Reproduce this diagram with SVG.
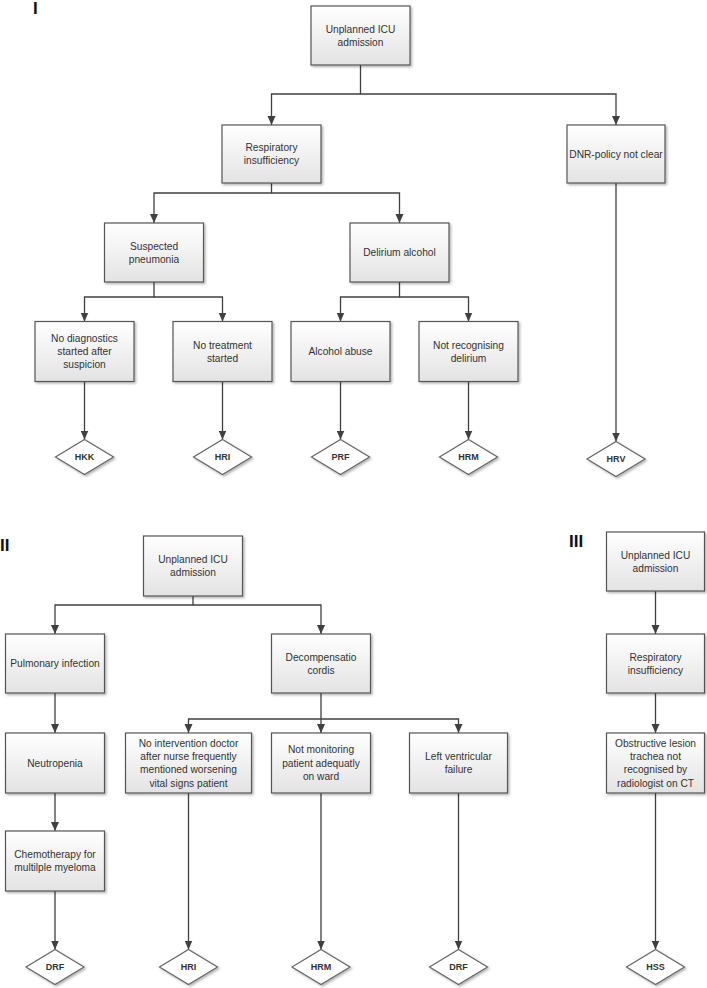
<svg xmlns="http://www.w3.org/2000/svg" xmlns:xlink="http://www.w3.org/1999/xlink" width="707" height="988" viewBox="0 0 707 988">
<defs>
<linearGradient id="bg" x1="0" y1="0" x2="0" y2="1">
<stop offset="0" stop-color="#ffffff"/>
<stop offset="1" stop-color="#e3e3e3"/>
</linearGradient>
<filter id="sh" x="-10%" y="-10%" width="130%" height="130%">
<feDropShadow dx="1.5" dy="1.5" stdDeviation="1" flood-color="#000" flood-opacity="0.3"/>
</filter>
<marker id="ah" markerUnits="userSpaceOnUse" markerWidth="10" markerHeight="9" refX="9" refY="4" orient="auto">
<path d="M0,0 L9,4 L0,8 z" fill="#404040"/>
</marker>
<polygon id="dia" points="0,-17.5 29,0 0,17.5 -29,0"/>
</defs>
<style>
.box{fill:url(#bg);stroke:#555;stroke-width:1.2;filter:url(#sh)}
.dm{fill:#fff;stroke:#666;stroke-width:1.2;filter:url(#sh)}
.t{font-family:"Liberation Sans",Arial,sans-serif;font-size:10.2px;fill:#333;text-anchor:middle}
.d{font-family:"Liberation Sans",Arial,sans-serif;font-size:9px;font-weight:bold;fill:#333;text-anchor:middle}
.lab{font-family:"Liberation Sans",Arial,sans-serif;font-size:17px;font-weight:bold;fill:#111}
.c path{fill:none;stroke:#404040;stroke-width:1.3;marker-end:url(#ah)}
</style>
<rect width="707" height="988" fill="#fff"/>

<text class="lab" x="33" y="14">I</text>
<text class="lab" x="0" y="551">II</text>
<text class="lab" x="569" y="547">III</text>

<g class="c" id="connectors">
<path d="M360.5 65 V94 H271.5 V125"/>
<path d="M360.5 94 H616 V125"/>
<path d="M271.5 183 V193 H154 V223"/>
<path d="M271.5 193 H399.5 V223"/>
<path d="M154 282 V297 H84.5 V321.5"/>
<path d="M154 297 H222.5 V321.5"/>
<path d="M399.5 282 V297 H340.5 V321.5"/>
<path d="M399.5 297 H468.5 V321.5"/>
<path d="M84.5 381.5 V439.5"/>
<path d="M222.5 381.5 V439.5"/>
<path d="M340.5 381.5 V439.5"/>
<path d="M468.5 381.5 V439.5"/>
<path d="M616 183 V441.5"/>
<path d="M193 596 V605 H55 V634"/>
<path d="M193 605 H321 V634"/>
<path d="M55 693 V733"/>
<path d="M55 793 V831"/>
<path d="M55 891 V949.5"/>
<path d="M321 693 V719 H188.5 V733"/>
<path d="M321 719 V733"/>
<path d="M321 719 H458.5 V733"/>
<path d="M188.5 793 V949.5"/>
<path d="M321 793 V949.5"/>
<path d="M458.5 793 V949.5"/>
<path d="M655.5 591 V634"/>
<path d="M655.5 693 V733"/>
<path d="M655.5 793 V949.5"/>
</g>

<g id="i-top"><rect class="box" x="311" y="6" width="99" height="59"/><text class="t" x="360.5" y="32.5">Unplanned ICU</text><text class="t" x="360.5" y="45.8">admission</text></g>
<g id="i-resp"><rect class="box" x="222" y="125" width="99" height="58"/><text class="t" x="271.5" y="151">Respiratory</text><text class="t" x="271.5" y="164.3">insufficiency</text></g>
<g id="i-dnr"><rect class="box" x="567" y="125" width="98" height="58"/><text class="t" x="616" y="157.6">DNR-policy not clear</text></g>
<g id="i-susp"><rect class="box" x="104.5" y="223" width="99" height="59"/><text class="t" x="154" y="249.5">Suspected</text><text class="t" x="154" y="262.8">pneumonia</text></g>
<g id="i-delir"><rect class="box" x="350" y="223" width="99" height="59"/><text class="t" x="399.5" y="256.1">Delirium alcohol</text></g>
<g id="i-nodiag"><rect class="box" x="35" y="321.5" width="99" height="60"/><text class="t" x="84.5" y="341.8">No diagnostics</text><text class="t" x="84.5" y="355.1">started after</text><text class="t" x="84.5" y="368.4">suspicion</text></g>
<g id="i-notreat"><rect class="box" x="173" y="321.5" width="99" height="60"/><text class="t" x="222.5" y="348.5">No treatment</text><text class="t" x="222.5" y="361.8">started</text></g>
<g id="i-alcohol"><rect class="box" x="291" y="321.5" width="99" height="60"/><text class="t" x="340.5" y="355.1">Alcohol abuse</text></g>
<g id="i-notrec"><rect class="box" x="419" y="321.5" width="99" height="60"/><text class="t" x="468.5" y="348.5">Not recognising</text><text class="t" x="468.5" y="361.8">delirium</text></g>
<g id="i-hkk"><use href="#dia" class="dm" x="84.5" y="457"/><text class="d" x="84.5" y="460.2">HKK</text></g>
<g id="i-hri"><use href="#dia" class="dm" x="222.5" y="457"/><text class="d" x="222.5" y="460.2">HRI</text></g>
<g id="i-prf"><use href="#dia" class="dm" x="340.5" y="457"/><text class="d" x="340.5" y="460.2">PRF</text></g>
<g id="i-hrm"><use href="#dia" class="dm" x="468.5" y="457"/><text class="d" x="468.5" y="460.2">HRM</text></g>
<g id="i-hrv"><use href="#dia" class="dm" x="616" y="459"/><text class="d" x="616" y="462.2">HRV</text></g>

<g id="ii-top"><rect class="box" x="143.5" y="536" width="99" height="60"/><text class="t" x="193" y="563">Unplanned ICU</text><text class="t" x="193" y="576.3">admission</text></g>
<g id="ii-pulm"><rect class="box" x="5.5" y="634" width="99" height="59"/><text class="t" x="55" y="667.1">Pulmonary infection</text></g>
<g id="ii-decomp"><rect class="box" x="271.5" y="634" width="99" height="59"/><text class="t" x="321" y="660.5">Decompensatio</text><text class="t" x="321" y="673.8">cordis</text></g>
<g id="ii-neutro"><rect class="box" x="5.5" y="733" width="99" height="60"/><text class="t" x="55" y="766.6">Neutropenia</text></g>
<g id="ii-chemo"><rect class="box" x="5.5" y="831" width="99" height="60"/><text class="t" x="55" y="858">Chemotherapy for</text><text class="t" x="55" y="871.3">multilple myeloma</text></g>
<g id="ii-nointerv"><rect class="box" x="125.5" y="733" width="126" height="60"/><text class="t" x="188.5" y="746.7">No intervention doctor</text><text class="t" x="188.5" y="760">after nurse frequently</text><text class="t" x="188.5" y="773.3">mentioned worsening</text><text class="t" x="188.5" y="786.6">vital signs patient</text></g>
<g id="ii-notmon"><rect class="box" x="271.5" y="733" width="99" height="60"/><text class="t" x="321" y="753.3">Not monitoring</text><text class="t" x="321" y="766.6">patient adequatly</text><text class="t" x="321" y="779.9">on ward</text></g>
<g id="ii-leftvent"><rect class="box" x="409.5" y="733" width="98" height="60"/><text class="t" x="458.5" y="760">Left ventricular</text><text class="t" x="458.5" y="773.3">failure</text></g>
<g id="ii-drf1"><use href="#dia" class="dm" x="55" y="967"/><text class="d" x="55" y="970.2">DRF</text></g>
<g id="ii-hri"><use href="#dia" class="dm" x="188.5" y="967"/><text class="d" x="188.5" y="970.2">HRI</text></g>
<g id="ii-hrm"><use href="#dia" class="dm" x="321" y="967"/><text class="d" x="321" y="970.2">HRM</text></g>
<g id="ii-drf2"><use href="#dia" class="dm" x="458.5" y="967"/><text class="d" x="458.5" y="970.2">DRF</text></g>

<g id="iii-top"><rect class="box" x="606.5" y="532" width="98" height="59"/><text class="t" x="655.5" y="558.5">Unplanned ICU</text><text class="t" x="655.5" y="571.8">admission</text></g>
<g id="iii-resp"><rect class="box" x="606.5" y="634" width="98" height="59"/><text class="t" x="655.5" y="660.5">Respiratory</text><text class="t" x="655.5" y="673.8">insufficiency</text></g>
<g id="iii-obstr"><rect class="box" x="606.5" y="733" width="98" height="60"/><text class="t" x="655.5" y="746.7">Obstructive lesion</text><text class="t" x="655.5" y="760">trachea not</text><text class="t" x="655.5" y="773.3">recognised by</text><text class="t" x="655.5" y="786.6">radiologist on CT</text></g>
<g id="iii-hss"><use href="#dia" class="dm" x="655.5" y="967"/><text class="d" x="655.5" y="970.2">HSS</text></g>
</svg>
